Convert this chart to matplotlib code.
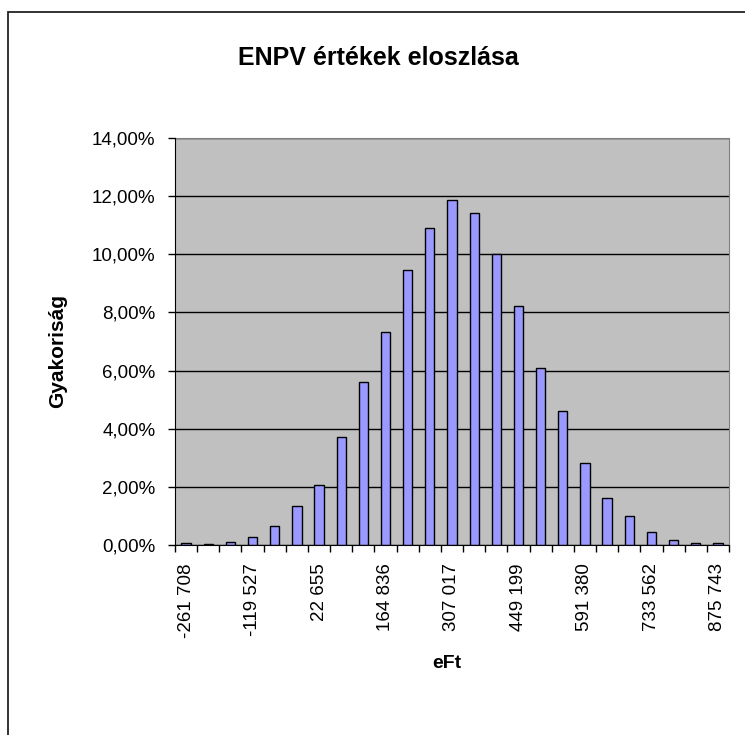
import matplotlib.pyplot as plt
from matplotlib.ticker import FuncFormatter, FixedLocator
from matplotlib.patches import Rectangle

plt.rcParams['font.family'] = ['Liberation Sans', 'DejaVu Sans']

# bin labels (eFt), Excel shows only every 3rd one
bin_labels = ['-261 708', '-214 314', '-166 921', '-119 527', '-72 133', '-24 740',
              '22 655', '70 048', '117 442', '164 836', '212 229', '259 623',
              '307 017', '354 411', '401 804', '449 199', '496 592', '543 986',
              '591 380', '638 773', '686 167', '733 562', '780 955', '828 349',
              '875 743']
# relative frequency in %
freq_pct = [0.06, 0.05, 0.11, 0.28, 0.66, 1.34, 2.06, 3.73, 5.62, 7.34,
            9.45, 10.90, 11.86, 11.42, 10.00, 8.23, 6.09, 4.62, 2.82, 1.61,
            0.99, 0.45, 0.16, 0.06, 0.06]
y_ticks = [0, 2, 4, 6, 8, 10, 12, 14]

W, H = 745, 735
fig = plt.figure(figsize=(W / 100, H / 100), dpi=100)
ax = fig.add_axes([175 / W, 1 - 545 / H, (729 - 175) / W, (545 - 138) / H])

# outer chart border (cropped on right/bottom like the original)
fig.patches.append(Rectangle((8 / W, -0.05), 1.1, 1 - 12 / H + 0.05,
                             transform=fig.transFigure, fill=False,
                             edgecolor='#222222', linewidth=1.3))

ax.set_facecolor('#C0C0C0')
x = list(range(len(freq_pct)))
vals = [v / 100 for v in freq_pct]
ax.bar(x, vals, width=0.42, color='#9999FF', edgecolor='black', linewidth=1.0, zorder=3)

ax.set_xlim(-0.5, len(freq_pct) - 0.5)
ax.set_ylim(0, 0.14)

ax.yaxis.set_major_locator(FixedLocator([t / 100 for t in y_ticks]))
ax.yaxis.set_major_formatter(FuncFormatter(lambda v, p: f"{v * 100:.2f}%".replace('.', ',')))
ax.grid(axis='y', color='black', linewidth=1.0, zorder=1)
ax.tick_params(axis='y', direction='out', length=5, width=1, pad=9, labelsize=13.5)

shown = x[::3]
ax.set_xticks(shown)
ax.set_xticklabels([bin_labels[i] for i in shown], rotation=90, fontsize=13.5)
ax.set_xticks([i - 0.5 for i in range(len(freq_pct) + 1)], minor=True)
ax.tick_params(axis='x', which='major', length=0, pad=13)
ax.tick_params(axis='x', which='minor', direction='out', length=5, width=1)

for s in ['top', 'right']:
    ax.spines[s].set_color('#808080')
for s in ['left', 'bottom']:
    ax.spines[s].set_color('black')
    ax.spines[s].set_zorder(4)

fig.text(378 / W, 1 - 58 / H, 'ENPV értékek eloszlása', ha='center', va='center',
         fontsize=18, fontweight='bold')
fig.text(58 / W, 1 - 351 / H, 'Gyakoriság', ha='center', va='center', rotation=90,
         fontsize=15, fontweight='bold')
fig.text(447 / W, 1 - 663 / H, 'eFt', ha='center', va='center',
         fontsize=14, fontweight='bold')

fig.savefig('out.png', dpi=100)
